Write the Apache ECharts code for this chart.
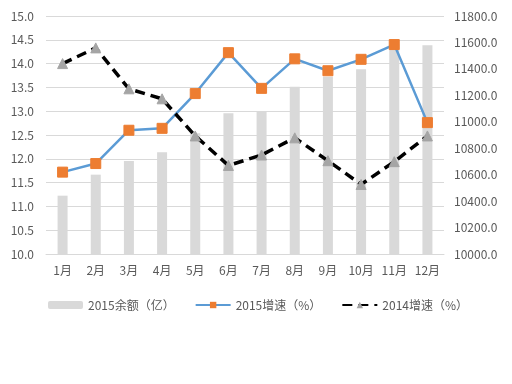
<!DOCTYPE html>
<html><head><meta charset="utf-8">
<script src="https://cdn.jsdelivr.net/npm/echarts@6/dist/echarts.min.js"></script>
<style>html,body{margin:0;padding:0;background:#fff}#c{width:512px;height:384px}</style>
</head><body><div id="c"></div>
<script>
var categories = ['1月','2月','3月','4月','5月','6月','7月','8月','9月','10月','11月','12月'];
var balance2015 = [10441, 10600, 10703, 10769, 10913, 11064, 11076, 11265, 11341, 11397, 11585, 11578];
var growth2015 = [11.72, 11.90, 12.60, 12.64, 13.37, 14.23, 13.48, 14.10, 13.85, 14.09, 14.40, 12.76];
var growth2014 = [14.00, 14.33, 13.47, 13.26, 12.48, 11.86, 12.08, 12.44, 11.96, 11.46, 11.94, 12.48];
var leftTicks = {min: 10, max: 15, interval: 0.5};
var rightTicks = {min: 10000, max: 11800, interval: 200};
var names = ['2015余额（亿）', '2015增速（%）', '2014增速（%）'];

var font = '"Noto Sans CJK SC", "Noto Sans", sans-serif';
var chart = echarts.init(document.getElementById('c'), null, {renderer: 'canvas'});
chart.setOption({
  animation: false,
  textStyle: {fontFamily: font},
  grid: {left: 46, right: 68, top: 16, bottom: 130, containLabel: false},
  legend: {
    left: 43, top: 294, itemWidth: 35, itemHeight: 8, itemGap: 20,
    textStyle: {color: '#595959', fontSize: 12, fontFamily: font},
    data: names
  },
  xAxis: {
    type: 'category', data: categories,
    axisLine: {lineStyle: {color: '#d9d9d9'}},
    axisTick: {show: false},
    axisLabel: {color: '#595959', fontSize: 12, margin: 10, fontFamily: font}
  },
  yAxis: [{
    type: 'value', min: leftTicks.min, max: leftTicks.max, interval: leftTicks.interval,
    axisLine: {show: false}, axisTick: {show: false},
    splitLine: {lineStyle: {color: '#d9d9d9'}},
    axisLabel: {color: '#595959', fontSize: 12, margin: 12, formatter: function(v){return v.toFixed(1);}}
  }, {
    type: 'value', min: rightTicks.min, max: rightTicks.max, interval: rightTicks.interval,
    axisLine: {show: false}, axisTick: {show: false},
    splitLine: {show: false},
    axisLabel: {color: '#595959', fontSize: 12, margin: 10, formatter: function(v){return v.toFixed(1);}}
  }],
  series: [{
    name: names[0], type: 'bar', yAxisIndex: 1, data: balance2015,
    barWidth: 10, itemStyle: {color: '#d9d9d9'}
  }, {
    name: names[1], type: 'line', yAxisIndex: 0, data: growth2015,
    symbol: 'rect', symbolSize: 10,
    lineStyle: {color: '#5b9bd5', width: 2.5},
    itemStyle: {color: '#ed7d31', borderColor: '#ed7d31'}
  }, {
    name: names[2], type: 'line', yAxisIndex: 0, data: growth2014,
    symbol: 'triangle', symbolSize: 10,
    lineStyle: {color: '#000000', width: 3.5, type: [10, 6]},
    itemStyle: {color: '#a5a5a5', borderColor: '#a5a5a5'}
  }]
});
</script></body></html>
